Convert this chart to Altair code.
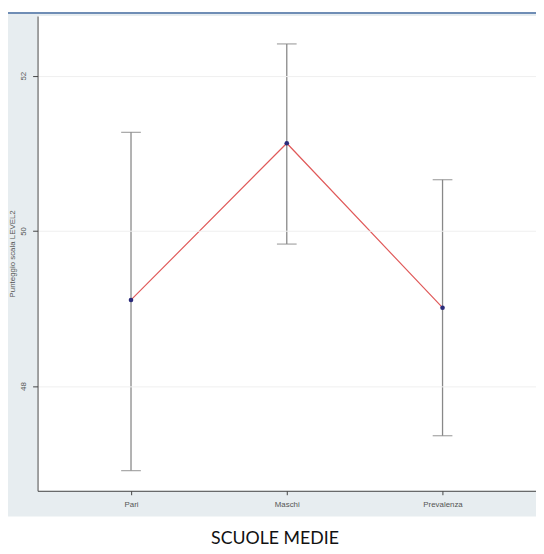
import altair as alt
import pandas as pd

categories = ["Pari", "Maschi", "Prevalenza"]
means = [49.11, 51.13, 49.01]
lower = [46.91, 49.83, 47.36]
upper = [51.27, 52.41, 50.66]
y_ticks = [48, 50, 52]

df = pd.DataFrame({"cat": categories, "mean": means, "lo": lower, "hi": upper})

W, H = 506, 482
ydom = [46.65, 52.77]

x = alt.X("cat:N", sort=categories, scale=alt.Scale(type="point", padding=0.6),
          axis=alt.Axis(title=None, labelAngle=0, labelFontSize=8, labelColor="#555",
                        labelFont="Liberation Sans", tickSize=4, tickColor="#444",
                        domainColor="#444", labelPadding=6, grid=False, zindex=1))
yscale = alt.Scale(domain=ydom, nice=False, zero=False)
yaxis = alt.Axis(title="Punteggio scala LEVEL2", values=y_ticks, format="d", labelAngle=-90,
                 labelAlign="center", labelBaseline="bottom", labelFontSize=8,
                 labelColor="#555", labelFont="Liberation Sans", tickSize=5,
                 tickColor="#444", domainColor="#444", labelPadding=5,
                 titleFontSize=8, titleFontWeight="normal", titleColor="#555",
                 titleFont="Liberation Sans", titlePadding=3, grid=True,
                 gridColor="#efefef", gridWidth=1, zindex=1)

deco = alt.Data(values=[{"k": 1}])
panel = alt.Chart(deco).mark_rect(color="#e7edf0").encode(
    x=alt.value(-30), x2=alt.value(W), y=alt.value(-2), y2=alt.value(H + 26))
band = alt.Chart(deco).mark_rect(color="#6f8db5").encode(
    x=alt.value(-30), x2=alt.value(W), y=alt.value(-4), y2=alt.value(-2))
plotbg = alt.Chart(deco).mark_rect(color="white").encode(
    x=alt.value(0), x2=alt.value(W), y=alt.value(0), y2=alt.value(H))

base = alt.Chart(df)
rules = base.mark_rule(color="#888888", strokeWidth=1.3).encode(
    x=x, y=alt.Y("lo:Q", scale=yscale, axis=yaxis), y2="hi:Q")
cap_lo = base.mark_tick(color="#888888", size=20, thickness=1.3).encode(
    x=x, y=alt.Y("lo:Q", scale=yscale))
cap_hi = base.mark_tick(color="#888888", size=20, thickness=1.3).encode(
    x=x, y=alt.Y("hi:Q", scale=yscale))
line = base.mark_line(color="#e05a5a", strokeWidth=1.2).encode(
    x=x, y=alt.Y("mean:Q", scale=yscale))
pts = base.mark_point(filled=True, color="#2b2b7a", size=22, opacity=1).encode(
    x=x, y=alt.Y("mean:Q", scale=yscale))

chart = alt.layer(panel, band, plotbg, rules, cap_lo, cap_hi, line, pts).properties(
    width=W, height=H,
    autosize=alt.AutoSizeParams(type="none"),
    padding={"left": 30, "top": 4, "right": 0, "bottom": 56},
    background="white",
    title=alt.TitleParams("SCUOLE MEDIE", orient="bottom", anchor="middle",
                          fontSize=18, fontWeight="normal", font="Lato",
                          color="#111", offset=14, dx=-12),
).configure_view(stroke=None)

chart.save("out.html", embed_options={"renderer": "svg", "actions": False})
